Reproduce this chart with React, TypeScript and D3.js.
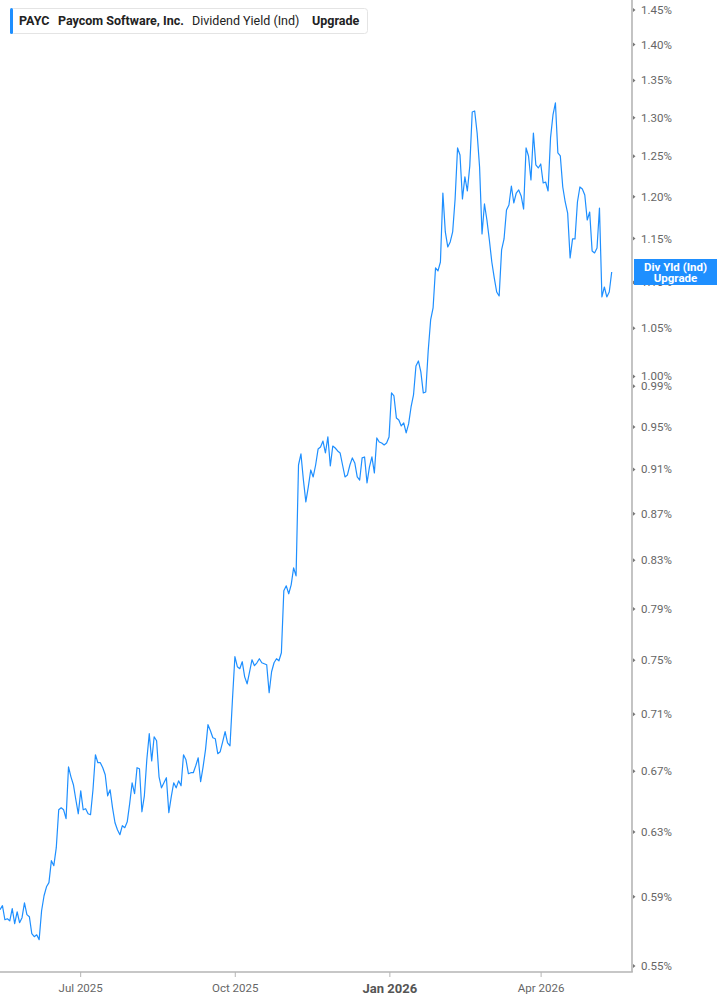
import React from "react";
import * as d3 from "d3";

// ---- Data ----
const START_DATE = "2025-05-14";
const END_DATE = "2026-05-13";

const yieldValues: number[] = [
  0.5823, 0.5847, 0.5764, 0.577, 0.5758, 0.5829, 0.5741, 0.5811, 0.5747, 0.5776,
  0.5864, 0.5794, 0.5782, 0.5683, 0.5666, 0.5677, 0.5649, 0.5817, 0.5906, 0.596,
  0.5985, 0.612, 0.6089, 0.6201, 0.6444, 0.6457, 0.6444, 0.6386, 0.6731, 0.6663,
  0.661, 0.651, 0.6418, 0.6569, 0.6444, 0.6451, 0.6418, 0.6412, 0.6576, 0.6814,
  0.6759, 0.6759, 0.6725, 0.6677, 0.6536, 0.6576, 0.6457, 0.636, 0.6315, 0.6283,
  0.6341, 0.6328, 0.6366, 0.6484, 0.6623, 0.655, 0.6725, 0.6718, 0.6431, 0.6536,
  0.6779, 0.6961, 0.6772, 0.6939, 0.6911, 0.6663, 0.6589, 0.6623, 0.6657, 0.6425,
  0.653, 0.6623, 0.6589, 0.6636, 0.6603, 0.6814, 0.6779, 0.6684, 0.6691, 0.6691,
  0.6738, 0.6793, 0.663, 0.6731, 0.6849, 0.7025, 0.6982, 0.6932, 0.6925, 0.6821,
  0.6835, 0.6904, 0.6975, 0.6897, 0.6876, 0.7205, 0.7526, 0.745, 0.7435, 0.7488,
  0.7374, 0.7322, 0.7412, 0.7503, 0.7458, 0.748, 0.7511, 0.748, 0.7473, 0.7465,
  0.7256, 0.7412, 0.748, 0.7511, 0.7495, 0.7556, 0.8046, 0.8087, 0.8022, 0.8095,
  0.8236, 0.8169, 0.9141, 0.9244, 0.9003, 0.8805, 0.894, 0.9095, 0.9031, 0.9141,
  0.929, 0.9309, 0.9366, 0.9253, 0.9405, 0.9132, 0.9319, 0.93, 0.9272, 0.9253,
  0.9141, 0.9031, 0.9049, 0.9141, 0.9207, 0.916, 0.9031, 0.9003, 0.9207, 0.9216,
  0.8976, 0.9123, 0.9216, 0.9068, 0.9395, 0.9357, 0.9347, 0.9329, 0.9347, 0.9405,
  0.9834, 0.9804, 0.9588, 0.9568, 0.951, 0.9539, 0.9443, 0.953, 0.9695, 0.9814,
  1.0107, 1.0158, 1.0046, 0.9834, 0.9844, 1.0262, 1.0589, 1.0719, 1.1163, 1.1129,
  1.123, 1.2044, 1.1578, 1.1403, 1.1461, 1.1578, 1.1971, 1.2607, 1.2517, 1.1971,
  1.2242, 1.2069, 1.2379, 1.3076, 1.3089, 1.28, 1.2366, 1.1554, 1.1911, 1.1719,
  1.1484, 1.123, 1.105, 1.0894, 1.085, 1.1368, 1.1496, 1.1838, 1.1898, 1.213,
  1.1923, 1.2044, 1.2081, 1.2008, 1.185, 1.2607, 1.2505, 1.2204, 1.28, 1.2392,
  1.2354, 1.2404, 1.2167, 1.2179, 1.2069, 1.2736, 1.3036, 1.3196, 1.2543, 1.2505,
  1.2118, 1.1935, 1.1802, 1.1276, 1.1496, 1.1496, 1.1935, 1.2118, 1.2093, 1.202,
  1.1719, 1.1814, 1.1356, 1.1334, 1.1391, 1.1862, 1.0839, 1.0949, 1.0839, 1.0894,
  1.1117,
];

const yTickValues = [
  1.45, 1.4, 1.35, 1.3, 1.25, 1.2, 1.15, 1.1, 1.05, 1.0, 0.99, 0.95, 0.91, 0.87,
  0.83, 0.79, 0.75, 0.71, 0.67, 0.63, 0.59, 0.55,
];

const xTickDates = ["2025-07-01", "2025-10-01", "2026-01-01", "2026-04-01"];
const xTickLabels = ["Jul 2025", "Oct 2025", "Jan 2026", "Apr 2026"];
const xTickBold = [false, false, true, false];

const legendTicker = "PAYC";
const legendCompany = "Paycom Software, Inc.";
const legendMetric = "Dividend Yield (Ind)";
const legendUpgrade = "Upgrade";
const valueLabelLines = ["Div Yld (Ind)", "Upgrade"];

// ---- Layout ----
const W = 717;
const H = 1005;
const PLOT_LEFT = 0;
const LAST_X = 611.7;
const AXIS_X = 632;
const AXIS_Y = 972;
const LINE_COLOR = "#1e8fff";
const FONT = "Roboto, 'Noto Sans', Arial, sans-serif";

export default function App() {
  const n = yieldValues.length;
  const x = d3.scaleLinear().domain([0, n - 1]).range([PLOT_LEFT, LAST_X]);
  const xTime = d3
    .scaleTime()
    .domain([new Date(START_DATE + "T00:00:00"), new Date(END_DATE + "T00:00:00")])
    .range([PLOT_LEFT, LAST_X]);
  const y = d3.scaleLog().domain([0.55, 1.45]).range([966, 10]);

  const line = d3
    .line<number>()
    .x((_, i) => x(i))
    .y((d) => y(d));

  const last = yieldValues[n - 1];
  const lastY = y(last);

  return (
    <svg
      width={W}
      height={H}
      style={{ position: "absolute", left: 0, top: 0, display: "block", background: "#fff" }}
      fontFamily={FONT}
    >
      {/* line */}
      <path d={line(yieldValues) || ""} fill="none" stroke={LINE_COLOR} strokeWidth={1.2} strokeLinejoin="round" />

      {/* axes */}
      <line x1={AXIS_X} x2={AXIS_X} y1={0} y2={AXIS_Y} stroke="#b5b5b5" strokeWidth={1.6} />
      <line x1={0} x2={AXIS_X + 0.8} y1={AXIS_Y} y2={AXIS_Y} stroke="#b5b5b5" strokeWidth={1.6} />

      {yTickValues.map((v) => {
        const ty = y(v);
        return (
          <g key={v}>
            <path d={`M${AXIS_X + 1},${ty - 2}L${AXIS_X + 3.5},${ty}L${AXIS_X + 1},${ty + 2}Z`} fill="#777" />
            <text x={641} y={ty} dy="0.35em" fontSize={11.5} fill="#666">
              {d3.format(".2f")(v)}%
            </text>
          </g>
        );
      })}

      {xTickDates.map((d, i) => {
        const tx = xTime(new Date(d + "T00:00:00"));
        return (
          <g key={d}>
            <line x1={tx} x2={tx} y1={AXIS_Y} y2={AXIS_Y + 5} stroke="#b5b5b5" strokeWidth={1} />
            <text
              x={tx}
              y={988}
              dy="0.35em"
              textAnchor="middle"
              fontSize={xTickBold[i] ? 13 : 11.5}
              fontWeight={xTickBold[i] ? 700 : 400}
              fill={xTickBold[i] ? "#555" : "#666"}
            >
              {xTickLabels[i]}
            </text>
          </g>
        );
      })}

      {/* value label */}
      <rect x={634} y={lastY - 13} width={W - 634} height={26} fill="#1e8fff" />
      <text x={675.5} y={lastY - 5.5} dy="0.35em" textAnchor="middle" fontSize={11.5} fontWeight={700} fill="#fff">
        {valueLabelLines[0]}
      </text>
      <text x={675.5} y={lastY + 6} dy="0.35em" textAnchor="middle" fontSize={11.5} fontWeight={700} fill="#fff">
        {valueLabelLines[1]}
      </text>

      {/* legend */}
      <rect x={10.5} y={8.5} width={357} height={25} rx={3} fill="#fff" stroke="#e4e4e4" />
      <rect x={10} y={8} width={3} height={26} rx={1.5} fill="#1e8fff" />
      <text x={19} y={21} dy="0.35em" fontSize={12.5} fill="#222">
        <tspan fontWeight={700}>{legendTicker}</tspan>
        <tspan x={58} fontWeight={700}>{legendCompany}</tspan>
        <tspan x={192} fontWeight={400}>{legendMetric}</tspan>
        <tspan x={312} fontWeight={700}>{legendUpgrade}</tspan>
      </text>
    </svg>
  );
}
